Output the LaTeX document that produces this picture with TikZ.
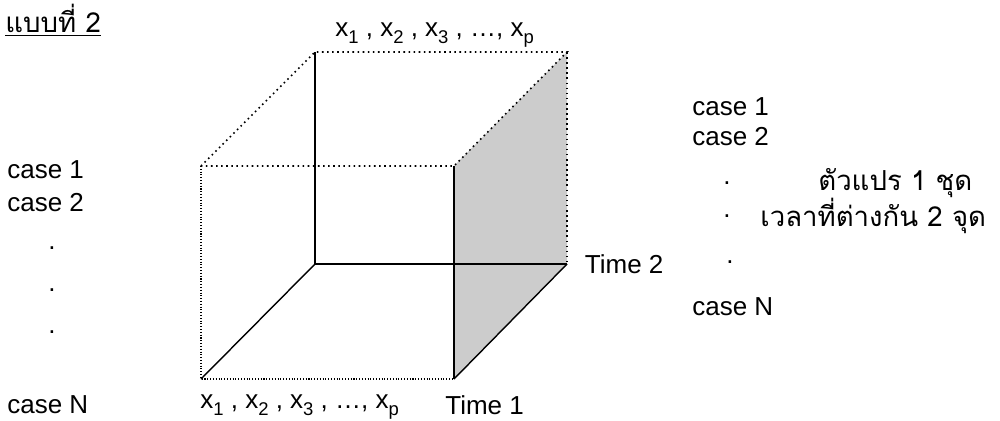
\documentclass[tikz,border=0pt]{standalone}
\usepackage{fontspec}
\setmainfont{Liberation Sans}
\newfontfamily\thaifont[Script=Thai,Scale=1.06]{Loma}
\usepackage{tikz}
\usetikzlibrary{positioning}

\newcommand{\xsub}[1]{x\raisebox{-0.45ex}{\fontsize{10.5}{12}\selectfont#1}}
\newcommand{\xlist}{\xsub{1} , \xsub{2} , \xsub{3} , \dots, \xsub{p}}

\begin{document}
\begin{tikzpicture}[x=0.02cm, y=-0.02cm,
  every node/.style={font=\fontsize{14.8}{17}\selectfont, inner sep=0pt},
  lbl/.style={anchor=west},
  solidedge/.style={line width=0.8pt},
  dotedge/.style={line width=0.9pt, dotted},
  faintedge/.style={line width=0.6pt, densely dotted}]
\useasboundingbox (0,0) rectangle (1000,420);

% Cube corners
\coordinate (ftl) at (201,166);
\coordinate (ftr) at (454,166);
\coordinate (fbl) at (201,379);
\coordinate (fbr) at (454,379);
\coordinate (btl) at (315,52);
\coordinate (btr) at (567,52);
\coordinate (bbl) at (315,264);
\coordinate (bbr) at (567,264);

% Shaded side
\fill[black!20] (ftr) -- (btr) -- (bbr) -- (fbr) -- cycle;

% Hidden edges
\draw[solidedge] (btl) -- (bbl) -- (bbr);
\draw[solidedge] (fbl) -- (bbl);
\draw[solidedge] (fbr) -- (bbr);
\draw[solidedge] (ftr) -- (fbr);

% Dotted edges
\draw[dotedge] (ftl) -- (btl) -- (btr) -- (ftr) -- (ftl);
\draw[dotedge] (btr) -- (bbr);
\draw[faintedge] (ftl) -- (fbl) -- (fbr);

% Title
\node[lbl] (title) at (5,20) {\thaifont\underline{แบบที่ 2}};

% Variable labels
\node[lbl] (xtop) at (335,35) {\xlist};
\node[lbl] (xbot) at (200,407) {\xlist};
\node[lbl] (time1) at (445,405) {Time 1};
\node[right=10pt of bbr] (time2) {Time 2};

% Cases on the left
\node[lbl] (lcase1) at (7,170) {case 1};
\node[lbl] (lcase2) at (7,203) {case 2};
\node (ldot1) at (52,248) {.};
\node (ldot2) at (52,290) {.};
\node (ldot3) at (52,332) {.};
\node[lbl] (lcaseN) at (7,405) {case N};

% Cases on the right
\node[lbl] (rcase1) at (692,107) {case 1};
\node[lbl] (rcase2) at (692,137) {case 2};
\node (rdot1) at (727,183) {.};
\node (rdot2) at (727,216) {.};
\node (rdot3) at (730,262) {.};
\node[lbl] (rcaseN) at (692,307) {case N};

% Note
\node[lbl] (vars) at (818,183) {\thaifont ตัวแปร 1 ชุด};
\node[lbl] (times) at (760,216) {\thaifont เวลาที่ต่างกัน 2 จุด};
\end{tikzpicture}
\end{document}
